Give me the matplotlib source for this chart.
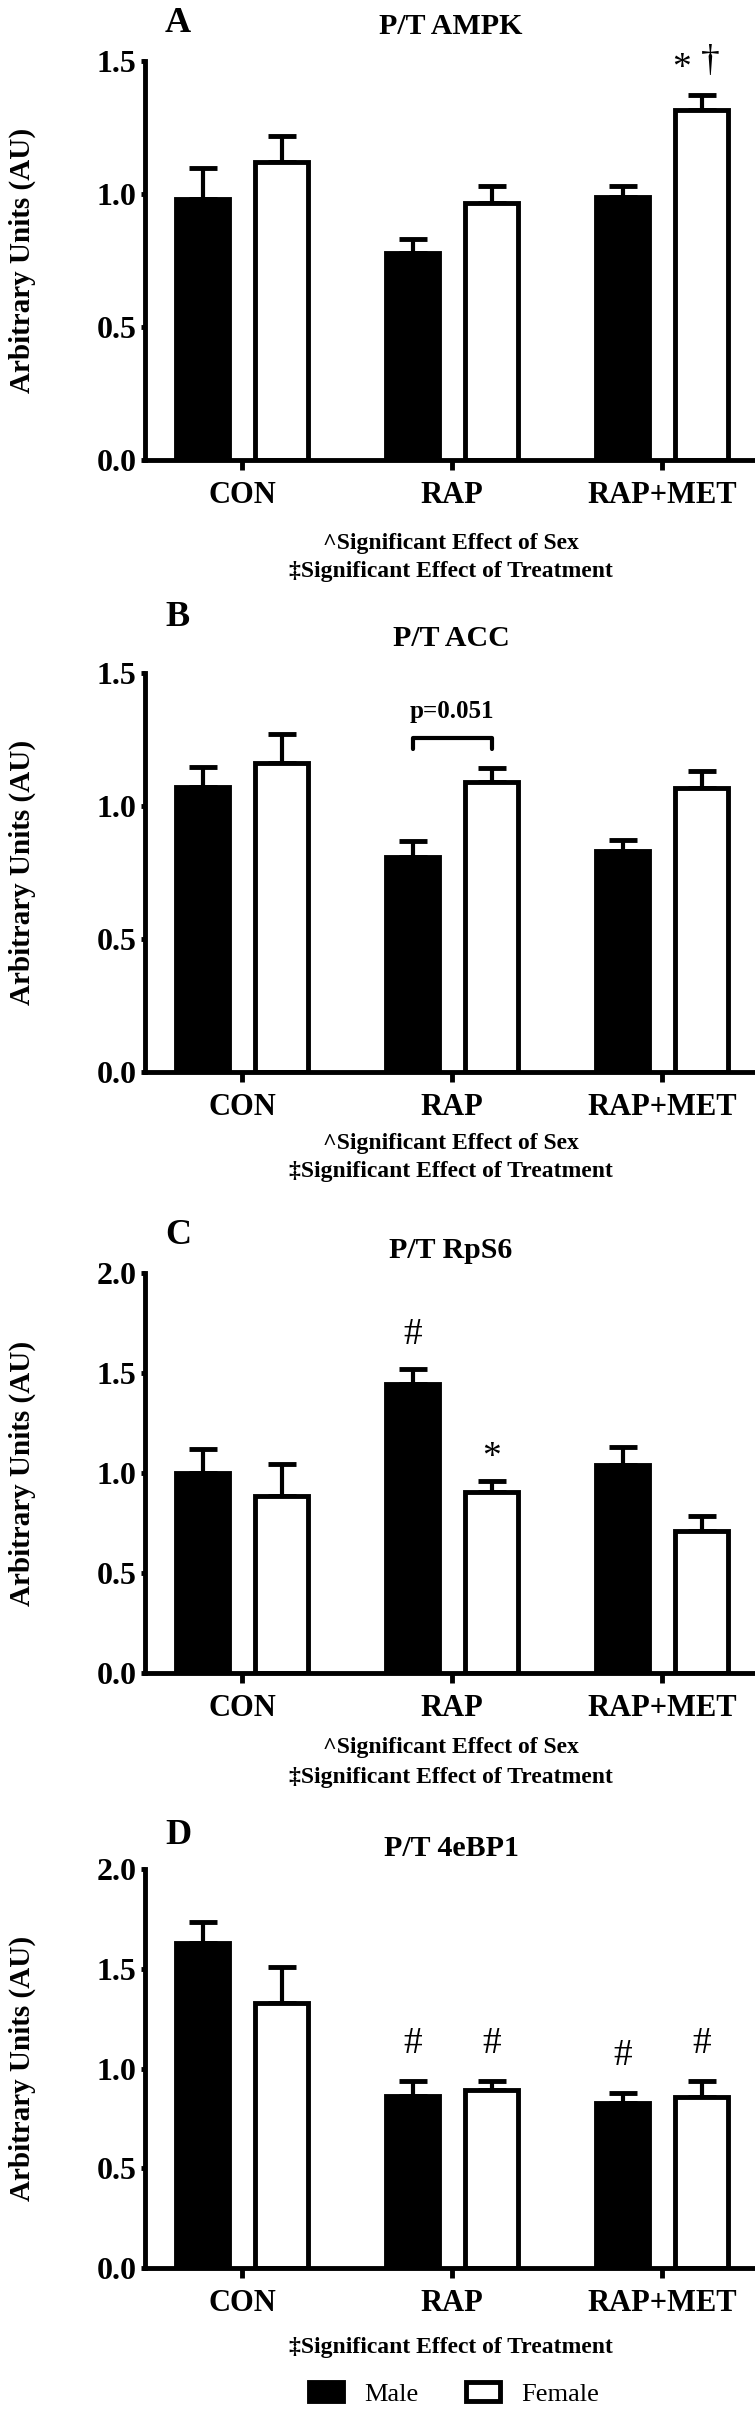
import matplotlib
matplotlib.use("Agg")
import matplotlib.pyplot as plt
from matplotlib.patches import Patch
import numpy as np

plt.rcParams["font.family"] = ["Liberation Serif", "DejaVu Serif"]

W, H = 755, 2412

# значения
groups = ["CON", "RAP", "RAP+MET"]

ampk_male = [0.98, 0.78, 0.99]
ampk_male_err = [0.116, 0.052, 0.040]
ampk_female = [1.12, 0.966, 1.316]
ampk_female_err = [0.097, 0.064, 0.057]

acc_male = [1.07, 0.81, 0.83]
acc_male_err = [0.077, 0.059, 0.043]
acc_female = [1.163, 1.089, 1.067]
acc_female_err = [0.107, 0.052, 0.065]

rps6_male = [1.0, 1.447, 1.042]
rps6_male_err = [0.119, 0.073, 0.088]
rps6_female = [0.883, 0.903, 0.709]
rps6_female_err = [0.164, 0.059, 0.076]

ebp1_male = [1.627, 0.861, 0.827]
ebp1_male_err = [0.106, 0.074, 0.049]
ebp1_female = [1.327, 0.890, 0.857]
ebp1_female_err = [0.181, 0.045, 0.078]

SEX_NOTE = "^Significant Effect of Sex"
TREAT_NOTE = "\u2021Significant Effect of Treatment"

BAR_W = 0.25
OFF = 0.188
LW = 3.5
MARK_FS = 27


def fx(px):
    return px / W


def fy(py):
    return 1 - py / H


def draw_panel(fig, top_px, bot_px, ymax, male, male_err, female, female_err):
    ax = fig.add_axes([fx(145), fy(bot_px), fx(753 - 145), (bot_px - top_px) / H])
    x = np.arange(len(groups))
    ax.bar(x - OFF, male, BAR_W, color="black", edgecolor="black", linewidth=LW, zorder=2)
    ax.bar(x + OFF, female, BAR_W, color="white", edgecolor="black", linewidth=LW, zorder=2)
    for xs, v, e in [(x - OFF, male, male_err), (x + OFF, female, female_err)]:
        ax.errorbar(xs, v, yerr=[np.zeros(len(e)), e], fmt="none", ecolor="black",
                    elinewidth=3, capsize=10, capthick=3.5, zorder=1)
    ax.set_xlim(-0.462, 2.433)
    ax.set_ylim(0, ymax)
    yt = np.arange(0, ymax + 0.01, 0.5)
    ax.set_yticks(yt)
    ax.set_yticklabels([f"{t:.1f}" for t in yt], fontsize=23, fontweight="bold")
    ax.set_xticks(x)
    ax.set_xticklabels(groups, fontsize=22, fontweight="bold")
    for s in ["top", "right"]:
        ax.spines[s].set_visible(False)
    for s in ["left", "bottom"]:
        ax.spines[s].set_linewidth(LW)
    ax.tick_params(axis="x", length=7, width=LW, pad=8)
    ax.tick_params(axis="y", length=3, width=LW, pad=3)
    ax.set_facecolor("none")
    fig.text(fx(22), fy((top_px + bot_px) / 2), "Arbitrary Units (AU)", rotation=90,
             ha="center", va="center", fontsize=21, fontweight="bold")
    return ax


def heading(letter, title, y_letter, y_title):
    fig.text(fx(178), fy(y_letter), letter, ha="center", va="center", fontsize=26, fontweight="bold")
    fig.text(fx(451), fy(y_title), title, ha="center", va="center", fontsize=21.5, fontweight="bold")


def notes(lines):
    for txt, y in lines:
        fig.text(fx(451), fy(y), txt, ha="center", va="center", fontsize=17, fontweight="bold")


fig = plt.figure(figsize=(W / 100, H / 100), dpi=100)

# A
ax = draw_panel(fig, 61, 460, 1.5, ampk_male, ampk_male_err, ampk_female, ampk_female_err)
heading("A", "P/T AMPK", 24, 26)
ax.text(2.095, 1.47, "*", ha="center", va="center", fontsize=MARK_FS)
ax.text(2.229, 1.496, "\u2020", ha="center", va="center", fontsize=MARK_FS)
notes([(SEX_NOTE, 543), (TREAT_NOTE, 572)])

# B
ax = draw_panel(fig, 673, 1072, 1.5, acc_male, acc_male_err, acc_female, acc_female_err)
heading("B", "P/T ACC", 618, 638)
ax.plot([1 - OFF, 1 - OFF, 1 + OFF, 1 + OFF], [1.214, 1.256, 1.256, 1.214],
        color="black", lw=3, solid_joinstyle="round", solid_capstyle="round", clip_on=False)
ax.text(1.0, 1.357, "p=0.051", ha="center", va="center", fontsize=18, fontweight="bold")
notes([(SEX_NOTE, 1143), (TREAT_NOTE, 1172)])

# C
ax = draw_panel(fig, 1273, 1673, 2.0, rps6_male, rps6_male_err, rps6_female, rps6_female_err)
heading("C", "P/T RpS6", 1236, 1251)
ax.text(1 - OFF, 1.69, "#", ha="center", va="center", fontsize=MARK_FS)
ax.text(1 + OFF, 1.075, "*", ha="center", va="center", fontsize=MARK_FS)
notes([(SEX_NOTE, 1747), (TREAT_NOTE, 1777)])

# D
ax = draw_panel(fig, 1869, 2268, 2.0, ebp1_male, ebp1_male_err, ebp1_female, ebp1_female_err)
heading("D", "P/T 4eBP1", 1835, 1849)
for xi, yi in [(1 - OFF, 1.123), (1 + OFF, 1.123), (2 - OFF, 1.063), (2 + OFF, 1.123)]:
    ax.text(xi, yi, "#", ha="center", va="center", fontsize=MARK_FS)
notes([(TREAT_NOTE, 2347)])

handles = [Patch(facecolor="black", edgecolor="black", linewidth=LW, label="Male"),
           Patch(facecolor="white", edgecolor="black", linewidth=LW, label="Female")]
fig.legend(handles=handles, loc="center", bbox_to_anchor=(fx(454), fy(2394)), ncol=2,
           frameon=False, fontsize=19, handlelength=1.3, handleheight=0.75,
           handletextpad=0.8, columnspacing=1.8, borderpad=0)

fig.savefig("out.png", dpi=100)
